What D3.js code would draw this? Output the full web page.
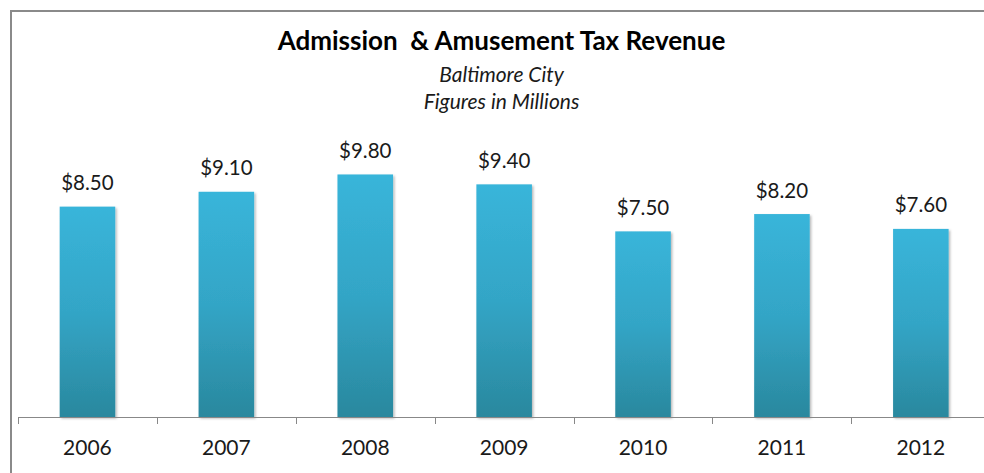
<!DOCTYPE html>
<html>
<head>
<meta charset="utf-8">
<script src="https://cdn.jsdelivr.net/npm/d3@7"></script>
<style>
  html, body { margin: 0; padding: 0; background: #fff; }
  svg { display: block; }
</style>
</head>
<body>
<svg id="chart" width="984" height="473"></svg>
<script>
const years = ["2006", "2007", "2008", "2009", "2010", "2011", "2012"];
const revenue = [8.50, 9.10, 9.80, 9.40, 7.50, 8.20, 7.60];
const titleText = "Admission  & Amusement Tax Revenue";
const subtitleLines = ["Baltimore City", "Figures in Millions"];

const W = 984, H = 473;
const svg = d3.select("#chart");

const defs = svg.append("defs");
const grad = defs.append("linearGradient")
  .attr("id", "barGrad").attr("x1", 0).attr("y1", 0).attr("x2", 0).attr("y2", 1);
grad.append("stop").attr("offset", "0%").attr("stop-color", "#39b5da");
grad.append("stop").attr("offset", "50%").attr("stop-color", "#33a5c6");
grad.append("stop").attr("offset", "100%").attr("stop-color", "#2a889e");

const shadow = defs.append("filter").attr("id", "shadow")
  .attr("x", "-20%").attr("y", "-5%").attr("width", "140%").attr("height", "115%");
shadow.append("feDropShadow").attr("dx", 1.5).attr("dy", 1.5)
  .attr("stdDeviation", 1.2).attr("flood-color", "#000").attr("flood-opacity", 0.28);

// chart border (top and left visible)
svg.append("line").attr("x1", 10).attr("x2", W).attr("y1", 11).attr("y2", 11)
  .attr("stroke", "#8a8a8a").attr("stroke-width", 2);
svg.append("line").attr("x1", 11).attr("x2", 11).attr("y1", 10).attr("y2", H)
  .attr("stroke", "#8a8a8a").attr("stroke-width", 2);

const x = d3.scaleBand().domain(years).range([18, 990.3]).paddingInner(0.6).paddingOuter(0.3);
const y = d3.scaleLinear().domain([0, 12]).range([417, 120]);
const step = x.step();

// bars
svg.append("g").selectAll("rect").data(years).join("rect")
  .attr("x", d => x(d))
  .attr("y", (d, i) => y(revenue[i]))
  .attr("width", x.bandwidth())
  .attr("height", (d, i) => y(0) - y(revenue[i]))
  .attr("fill", "url(#barGrad)")
  .attr("filter", "url(#shadow)");

// axis line
svg.append("line").attr("x1", 18).attr("x2", W).attr("y1", y(0) + 0.5).attr("y2", y(0) + 0.5)
  .attr("stroke", "#888").attr("stroke-width", 1);
// tick marks at category boundaries
const boundaries = years.map(d => x(d) + x.bandwidth() / 2 - step / 2);
boundaries.push(boundaries[boundaries.length - 1] + step);
svg.append("g").selectAll("line").data(boundaries).join("line")
  .attr("x1", d => Math.round(d) + 0.5).attr("x2", d => Math.round(d) + 0.5)
  .attr("y1", y(0)).attr("y2", y(0) + 7)
  .attr("stroke", "#888").attr("stroke-width", 1);

// category labels
svg.append("g").selectAll("text").data(years).join("text")
  .attr("x", d => x(d) + x.bandwidth() / 2)
  .attr("y", 455)
  .attr("text-anchor", "middle")
  .attr("font-family", "Lato, 'Open Sans', sans-serif")
  .attr("font-size", 21)
  .attr("fill", "#1a1a1a")
  .text(d => d);

// value labels
svg.append("g").selectAll("text").data(years).join("text")
  .attr("x", d => x(d) + x.bandwidth() / 2)
  .attr("y", (d, i) => y(revenue[i]) - 16.5)
  .attr("text-anchor", "middle")
  .attr("font-family", "Lato, 'Open Sans', sans-serif")
  .attr("font-size", 20.5)
  .attr("fill", "#1a1a1a")
  .text((d, i) => "$" + d3.format(".2f")(revenue[i]));

// title
svg.append("text")
  .attr("x", 501.5).attr("y", 50)
  .attr("text-anchor", "middle")
  .attr("font-family", "Lato, 'Open Sans', sans-serif")
  .attr("font-weight", "bold")
  .attr("font-size", 26)
  .attr("fill", "#000")
  .attr("xml:space", "preserve")
  .style("white-space", "pre")
  .text(titleText);

svg.append("g").selectAll("text").data(subtitleLines).join("text")
  .attr("x", 501.5)
  .attr("y", (d, i) => 82 + i * 26.5)
  .attr("text-anchor", "middle")
  .attr("font-family", "Lato, 'Open Sans', sans-serif")
  .attr("font-style", "italic")
  .attr("font-size", 21)
  .attr("fill", "#1a1a1a")
  .text(d => d);
</script>
</body>
</html>
